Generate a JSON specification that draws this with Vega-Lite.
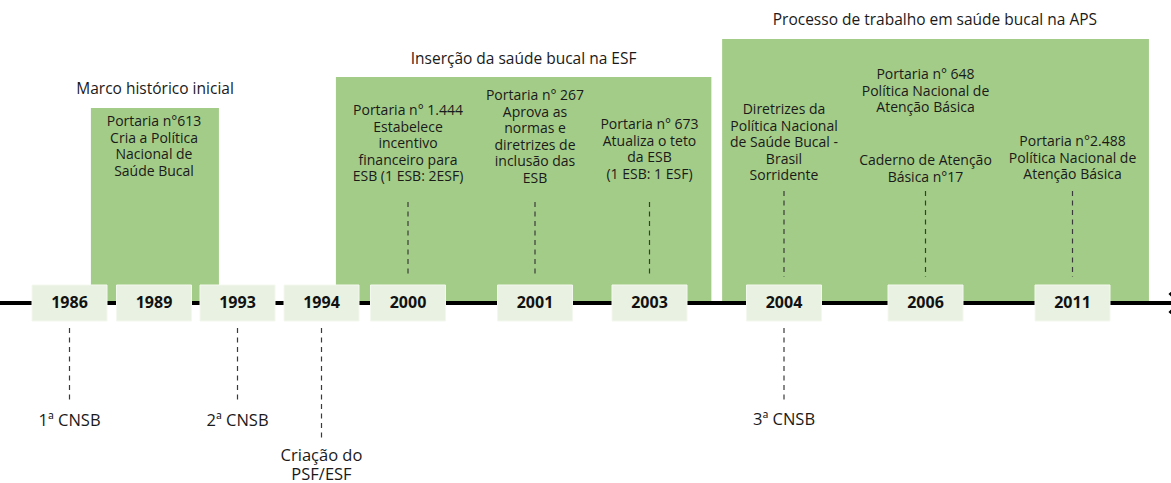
{
  "$schema": "https://vega.github.io/schema/vega-lite/v6.json",
  "width": 1171,
  "height": 483,
  "autosize": {"type": "none"},
  "padding": 0,
  "background": "white",
  "config": {
    "view": {"stroke": null},
    "axis": {"disable": true},
    "text": {"font": "Open Sans", "color": "#1a1a1a"}
  },
  "datasets": {
    "sections": [
      {"label": "Marco histórico inicial", "start": 1986.76, "end": 1992.11, "top": 108, "titleX": 1989.05, "titleY": 89},
      {"label": "Inserção da saúde bucal na ESF", "start": 1995.0, "end": 2003.46, "top": 77, "titleX": 2000.91, "titleY": 59},
      {"label": "Processo de trabalho em saúde bucal na APS", "start": 2003.54, "end": 2013.6, "top": 39, "titleX": 2006.32, "titleY": 20}
    ],
    "years": [
      {"year": 1986}, {"year": 1989}, {"year": 1993}, {"year": 1994}, {"year": 2000},
      {"year": 2001}, {"year": 2003}, {"year": 2004}, {"year": 2006}, {"year": 2011}
    ],
    "connectors": [
      {"year": 2000, "from": 202, "to": 277},
      {"year": 2001, "from": 202, "to": 277},
      {"year": 2003, "from": 202, "to": 277},
      {"year": 2004, "from": 191, "to": 277},
      {"year": 2006, "from": 191, "to": 277},
      {"year": 2011, "from": 191, "to": 277},
      {"year": 1986, "from": 328, "to": 403},
      {"year": 1993, "from": 328, "to": 403},
      {"year": 1994, "from": 328, "to": 442},
      {"year": 2004, "from": 328, "to": 403}
    ],
    "events": [
      {"year": 1989, "first": 122, "lines": ["Portaria n°613", "Cria a Política", "Nacional de", "Saúde Bucal"]},
      {"year": 2000, "first": 111, "lines": ["Portaria n° 1.444", "Estabelece", "incentivo", "financeiro para", "ESB (1 ESB: 2ESF)"]},
      {"year": 2001, "first": 96, "lines": ["Portaria n° 267", "Aprova as", "normas e", "diretrizes de", "inclusão das", "ESB"]},
      {"year": 2003, "first": 125, "lines": ["Portaria n° 673", "Atualiza o teto", "da ESB", "(1 ESB: 1 ESF)"]},
      {"year": 2004, "first": 110, "lines": ["Diretrizes da", "Política Nacional", "de Saúde Bucal -", "Brasil", "Sorridente"]},
      {"year": 2006, "first": 75, "lines": ["Portaria n° 648", "Política Nacional de", "Atenção Básica"]},
      {"year": 2006, "first": 161, "lines": ["Caderno de Atenção", "Básica n°17"]},
      {"year": 2011, "first": 142, "lines": ["Portaria n°2.488", "Política Nacional de", "Atenção Básica"]}
    ],
    "below": [
      {"year": 1986, "first": 421, "lines": ["1ª CNSB"]},
      {"year": 1993, "first": 421, "lines": ["2ª CNSB"]},
      {"year": 1994, "first": 456, "lines": ["Criação do", "PSF/ESF"]},
      {"year": 2004, "first": 420, "lines": ["3ª CNSB"]}
    ]
  },
  "resolve": {"scale": {"x": "shared", "y": "shared"}},
  "layer": [
    {
      "data": {"name": "sections"},
      "mark": {"type": "rect", "color": "#a3cc88"},
      "encoding": {
        "x": {"field": "start", "type": "quantitative", "axis": null,
          "scale": {"type": "linear", "domain": [1986, 1989, 1993, 1994, 2000, 2001, 2003, 2004, 2006, 2011], "range": [69.5, 154, 237.5, 321.5, 408, 535, 649.5, 784, 925.5, 1072.5], "nice": false, "zero": false}},
        "x2": {"field": "end"},
        "y": {"field": "top", "type": "quantitative", "axis": null,
          "scale": {"domain": [0, 483], "reverse": true, "nice": false, "zero": false}},
        "y2": {"datum": 303}
      }
    },
    {
      "data": {"name": "sections"},
      "mark": {"type": "text", "fontSize": 15.5, "fontWeight": 500, "align": "center", "baseline": "middle"},
      "encoding": {
        "x": {"field": "titleX", "type": "quantitative", "axis": null},
        "y": {"field": "titleY", "type": "quantitative", "axis": null},
        "text": {"field": "label", "type": "nominal"}
      }
    },
    {
      "data": {"values": [{"line": "eixo"}]},
      "mark": {"type": "rule", "color": "#000000", "strokeWidth": 4},
      "encoding": {
        "y": {"datum": 303, "type": "quantitative", "axis": null}
      }
    },
    {
      "data": {"values": [{"tip": 2014.64}]},
      "mark": {"type": "point", "shape": "M-1,-1L0,0L-1,1", "size": 400, "filled": false, "stroke": "#000000", "strokeWidth": 3, "opacity": 1, "clip": true},
      "encoding": {
        "x": {"field": "tip", "type": "quantitative", "axis": null},
        "y": {"datum": 303, "type": "quantitative", "axis": null}
      }
    },
    {
      "data": {"name": "connectors"},
      "mark": {"type": "rule", "color": "#3a3a3a", "strokeWidth": 1.2, "strokeDash": [5, 4.5]},
      "encoding": {
        "x": {"field": "year", "type": "quantitative", "axis": null},
        "y": {"field": "from", "type": "quantitative", "axis": null},
        "y2": {"field": "to"}
      }
    },
    {
      "data": {"name": "years"},
      "mark": {"type": "point", "shape": "M-1,-0.48L1,-0.48L1,0.48L-1,0.48Z", "size": 5625, "filled": true, "fill": "#e9f2e2", "stroke": "#f3f8ee", "strokeWidth": 1, "opacity": 1},
      "encoding": {
        "x": {"field": "year", "type": "quantitative", "axis": null},
        "y": {"datum": 303, "type": "quantitative", "axis": null}
      }
    },
    {
      "data": {"name": "years"},
      "mark": {"type": "text", "fontSize": 16, "fontWeight": "bold", "align": "center", "baseline": "middle", "color": "#111111"},
      "encoding": {
        "x": {"field": "year", "type": "quantitative", "axis": null},
        "y": {"datum": 303, "type": "quantitative", "axis": null},
        "text": {"field": "year", "type": "nominal"}
      }
    },
    {
      "data": {"name": "events"},
      "mark": {"type": "text", "fontSize": 14, "fontWeight": 500, "lineHeight": 16.5, "align": "center", "baseline": "middle"},
      "encoding": {
        "x": {"field": "year", "type": "quantitative", "axis": null},
        "y": {"field": "first", "type": "quantitative", "axis": null},
        "text": {"field": "lines", "type": "nominal"}
      }
    },
    {
      "data": {"name": "below"},
      "mark": {"type": "text", "fontSize": 16.5, "lineHeight": 19, "align": "center", "baseline": "middle"},
      "encoding": {
        "x": {"field": "year", "type": "quantitative", "axis": null},
        "y": {"field": "first", "type": "quantitative", "axis": null},
        "text": {"field": "lines", "type": "nominal"}
      }
    }
  ]
}
